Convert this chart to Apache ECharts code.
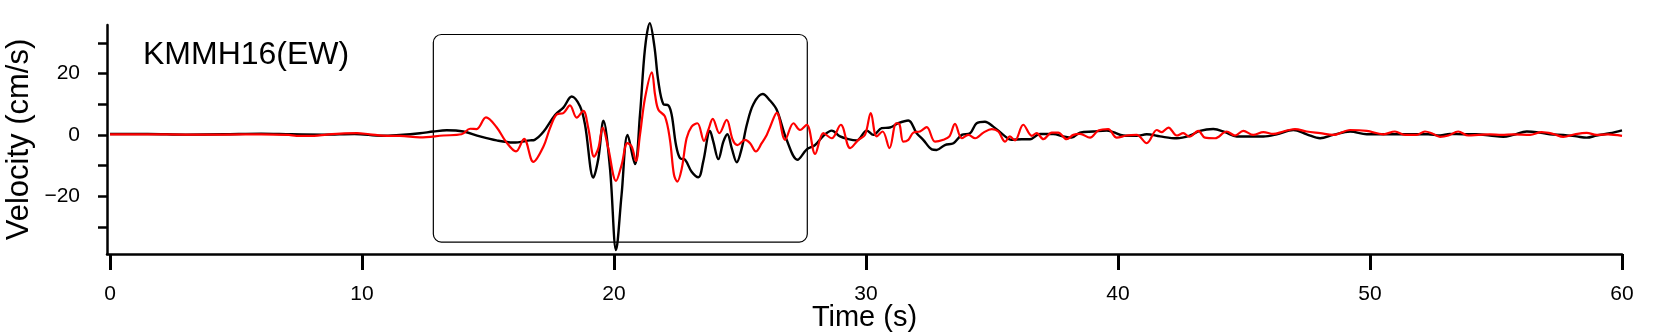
<!DOCTYPE html>
<html>
<head>
<meta charset="utf-8">
<script src="https://cdn.jsdelivr.net/npm/echarts@6/dist/echarts.min.js"></script>
<style>
html,body{margin:0;padding:0;background:#fff;}
#chart{width:1672px;height:333px;}
</style>
</head>
<body>
<div id="chart"></div>
<script>
// ---- data ----
const stationTitle = 'KMMH16(EW)';
const xTickValues = [0, 10, 20, 30, 40, 50, 60];
const yTickValues = [-30, -20, -10, 0, 10, 20, 30];
const yLabelValues = [-20, 0, 20];

const blackTime = [0,1.5,3,4.5,6,7.2,8.5,9.7,10.8,11.5,12.3,12.83,13.36,14.02,14.68,15.34,16.0,16.67,16.85,17.2,17.66,17.99,18.32,18.65,18.85,19.18,19.38,19.58,19.84,20.08,20.3,20.54,20.83,21.03,21.23,21.42,21.6,21.76,21.96,22.16,22.29,22.46,22.62,22.82,23.08,23.35,23.54,23.81,23.94,24.14,24.34,24.5,24.67,24.87,25.07,25.27,25.53,25.9,26.19,26.46,26.85,27.28,27.65,27.98,28.31,28.64,28.97,29.3,29.63,30.03,30.29,30.62,30.95,31.28,31.68,32.01,32.27,32.61,32.8,33.13,33.47,33.8,34.13,34.39,34.72,35.05,35.45,35.78,36.18,36.51,36.9,37.43,37.83,38.16,38.49,39.02,39.55,39.81,40.21,40.74,41.14,41.67,42.33,42.86,43.25,43.78,44.25,44.71,45.24,45.77,46.3,46.96,47.49,48.02,48.54,49.21,49.87,50.53,51.32,51.85,52.31,52.78,53.17,53.7,54.23,54.76,55.29,55.69,56.22,56.61,57.14,57.67,58.2,58.6,58.99,59.52,60];
const blackVel = [0.3,0.3,0.1,0.2,0.4,0.2,0.1,0.3,-0.3,0,0.55,1.1,1.5,1.1,-0.5,-1.8,-2.5,-1.8,-1.6,1.0,6.5,8.9,12.5,9.3,3.3,-13.9,-7.6,4.6,-10.9,-37.5,-19.5,0,-9.5,6.5,28.2,36.4,29,17.4,10,9.6,6.5,-3.3,-7.6,-8.1,-12,-13.8,-8.7,1.3,-2.2,-7.9,-2.2,0.2,-4.3,-8.9,-4.3,3.3,10,13.3,11.2,8.1,-1.6,-8.1,-4.7,-3.3,-0.3,1.4,-0.5,-1.4,-1.8,1.4,0,2.2,2.4,3.8,4.7,0.55,-1.6,-4.7,-4.9,-3.3,-2.7,0,0.55,3.8,4.3,2.7,0,-1.6,-1.4,-1.4,0.3,0.3,-0.5,-0.9,0.75,1.1,1.4,0.9,-0.2,-0.3,0.2,-0.5,-1.1,-0.2,1.3,1.9,0.9,-0.5,-0.5,-0.5,0.2,1.6,0.2,-1.1,0,1.1,0.2,0.2,0.2,0.2,0.2,-0.2,0.3,0.2,0.2,-0.2,-0.65,0,1.1,0.9,0.2,0,-0.5,-0.9,-0.2,0.55,1.5];

const redTime = [0,1.5,3,4.5,6,7.1,7.4,8.1,8.6,9.3,9.8,10.3,11,11.5,12.3,13.23,13.95,14.29,14.55,14.92,15.34,15.71,16.11,16.43,16.8,17.2,17.46,17.73,17.99,18.25,18.52,18.78,18.98,19.21,19.38,19.55,19.77,20.08,20.3,20.53,20.7,20.87,21.03,21.23,21.5,21.63,21.76,22.02,22.22,22.38,22.51,22.69,22.88,23.08,23.31,23.57,23.74,23.92,24.18,24.47,24.71,24.9,25.2,25.4,25.63,25.86,26.06,26.19,26.46,26.79,27.12,27.38,27.65,27.98,28.31,28.64,29.0,29.37,29.7,29.96,30.19,30.42,30.66,30.93,31.2,31.32,31.48,31.68,31.88,32.14,32.41,32.74,33.07,33.31,33.53,33.8,34.06,34.33,34.66,34.99,35.25,35.52,35.71,35.91,36.24,36.58,36.77,37.04,37.37,37.63,37.96,38.23,38.49,38.89,39.22,39.61,39.95,40.34,40.74,41.14,41.54,41.73,42.0,42.33,42.59,42.83,43.19,43.45,43.85,44.31,44.64,44.97,45.37,45.77,46.16,46.56,47.02,47.49,48.02,48.54,49.21,49.87,50.53,50.99,51.39,51.85,52.18,52.45,52.78,53.11,53.5,53.9,54.3,54.76,55.22,55.69,56.35,56.81,57.28,57.67,58.13,58.6,58.99,59.45,60];
const redVel = [0.2,0.2,0.1,0.1,0.2,0,-0.3,-0.3,0.1,0.5,0.6,0.2,-0.3,-0.3,-0.8,-0.2,0.2,2.0,1.9,5.7,2.5,-2.2,-5.4,-1.3,-8.8,-3.8,2.2,6.7,7.1,9.6,5.6,7.8,2.2,-7.1,-4.3,2.4,-4.3,-15.0,-9.8,-2.7,-3.8,-8.5,0,12,20.4,13,8.2,6,-1.6,-13,-15.2,-10.9,-1.1,2.7,3.8,-1.95,1.6,5.2,0.55,4.9,-1.6,-3.3,-1.6,-2.7,-5.4,-2.7,0,2.5,7.2,-1.6,3.8,1.6,3.3,-6.2,0.55,-1.1,3.3,-4.3,-1.6,0,7.1,-0.5,1.1,-4.3,3.8,3.6,-2.2,-1.6,0.75,1.1,2.5,-2.2,-1.6,-0.5,3.6,-1.1,0,-1.1,0.75,1.9,1.1,-2.2,-0.5,-1.8,3.3,-0.3,0.55,-1.4,0.75,0.75,-1.4,0,0.3,-0.9,1.4,1.9,-0.9,-0.2,0,-2.7,1.6,0.9,2.4,-0.2,0.55,-0.6,1.3,-0.9,-1.1,1.1,-0.2,1.3,0,0.9,0.3,1.1,1.9,1.1,0.55,0,1.6,1.3,0.2,1.1,0,0,1.1,0.55,-0.65,-0.2,1.1,-0.2,0,0.2,0,0.2,0,0.9,0.3,-0.65,0.2,0.65,0,0.2,-0.3];

// highlighted window (data units): [t0, v0, t1, v1]
const windowBox = [[12.83, 32.7, 27.67, -34.9]];

// ---- chart ----
const zip = (t, v) => t.map((x, i) => [x, v[i]]);
const FONT = "'Liberation Sans', Arial, sans-serif";
const chart = echarts.init(document.getElementById('chart'), null, {renderer: 'canvas'});
chart.setOption({
  animation: false,
  backgroundColor: '#ffffff',
  title: {
    text: stationTitle,
    left: 143, top: 39, padding: 0,
    textStyle: {fontFamily: FONT, fontSize: 32, fontWeight: 'normal', color: '#000'}
  },
  grid: {left: 107, right: 50, top: 25, bottom: 79, containLabel: false, outerBoundsMode: 'none'},
  xAxis: {
    type: 'value', min: -0.12, max: 60,
    name: 'Time (s)', nameLocation: 'middle', nameGap: 49, nameMoveOverlap: false,
    nameTextStyle: {fontFamily: FONT, fontSize: 29, color: '#000'},
    axisLine: {show: true, onZero: false, lineStyle: {color: '#000', width: 2.5}},
    axisTick: {show: true, customValues: xTickValues, length: 16, inside: false, lineStyle: {color: '#000', width: 3}},
    axisLabel: {customValues: xTickValues, margin: 30, fontFamily: FONT, fontSize: 21, color: '#000'},
    splitLine: {show: false}
  },
  yAxis: {
    type: 'value', min: -38.8, max: 35.8,
    name: 'Velocity (cm/s)', nameLocation: 'middle', nameGap: 72, nameMoveOverlap: false,
    nameTextStyle: {fontFamily: FONT, fontSize: 31, color: '#000'},
    axisLine: {show: true, onZero: false, lineStyle: {color: '#000', width: 2.5}},
    axisTick: {show: true, customValues: yTickValues, length: 9, lineStyle: {color: '#000', width: 2.5}},
    axisLabel: {
      customValues: yLabelValues, margin: 27, fontFamily: FONT, fontSize: 21, color: '#000',
      formatter: v => String(v).replace('-', '\u2212')
    },
    splitLine: {show: false}
  },
  series: [
    {
      type: 'custom', name: 'window', data: windowBox, clip: false, silent: true, z: 1,
      renderItem: function (params, api) {
        const p0 = api.coord([api.value(0), api.value(1)]);
        const p1 = api.coord([api.value(2), api.value(3)]);
        return {
          type: 'rect',
          shape: {x: p0[0], y: p0[1], width: p1[0] - p0[0], height: p1[1] - p0[1], r: 8},
          style: {fill: 'none', stroke: '#000', lineWidth: 1.2}
        };
      }
    },
    {
      type: 'line', name: 'black', data: zip(blackTime, blackVel), showSymbol: false, smooth: 0.35,
      clip: false, lineStyle: {color: '#000000', width: 2.4}, z: 2
    },
    {
      type: 'line', name: 'red', data: zip(redTime, redVel), showSymbol: false, smooth: 0.35,
      clip: false, lineStyle: {color: '#ff0000', width: 2.2}, z: 3
    }
  ]
});
</script>
</body>
</html>
